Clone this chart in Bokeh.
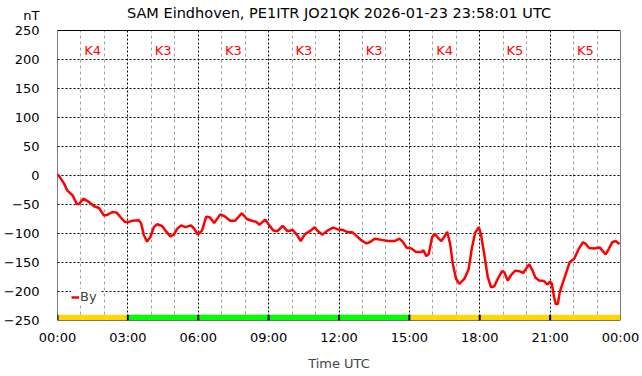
from bokeh.plotting import figure
from bokeh.models import FixedTicker, Legend, LegendItem, Range1d
from bokeh.embed import file_html
from bokeh.resources import INLINE

# ---- data ----
hours = [0.00, 0.07, 0.28, 0.42, 0.64, 0.82, 0.92, 1.10, 1.35, 1.56, 1.77, 1.98, 2.12, 2.34, 2.52, 2.69,
         2.87, 3.04, 3.19, 3.47, 3.57, 3.68, 3.82, 3.96, 4.11, 4.25, 4.46, 4.60, 4.81, 4.96, 5.10,
         5.27, 5.45, 5.69, 5.83, 5.98, 6.16, 6.34, 6.49, 6.68, 6.94, 7.15, 7.36, 7.57, 7.86,
         8.07, 8.28, 8.47, 8.61, 8.85, 9.03, 9.20, 9.37, 9.60, 9.80, 10.03, 10.20, 10.37, 10.55,
         10.76, 10.97, 11.07, 11.30, 11.51, 11.75, 11.96, 12.18, 12.39, 12.57, 12.77, 12.96,
         13.17, 13.31, 13.52, 13.81, 14.09, 14.37, 14.58, 14.73, 14.87, 15.08, 15.29, 15.51,
         15.60, 15.72, 15.83, 15.97, 16.10, 16.21, 16.36, 16.50, 16.61, 16.74, 16.85, 16.99,
         17.13, 17.35, 17.53, 17.67, 17.81, 17.96, 18.05, 18.19, 18.34, 18.48, 18.62, 18.77,
         18.95, 19.05, 19.19, 19.33, 19.51, 19.68, 19.85, 19.97, 20.11, 20.25, 20.37, 20.53,
         20.74, 20.89, 20.99, 21.07, 21.17, 21.24, 21.33, 21.41, 21.55, 21.69, 21.84, 22.02,
         22.23, 22.40, 22.52, 22.66, 22.87, 23.11, 23.22, 23.37, 23.51, 23.65, 23.79, 23.96]
by_nt = [2, -1, -14, -26, -34, -49, -49, -40, -46, -53, -56, -69, -68, -63, -64, -72,
         -80, -80, -78, -77, -83, -103, -114, -106, -89, -84, -87, -95, -105, -102, -92,
         -86, -89, -86, -92, -102, -95, -71, -72, -82, -67, -71, -78, -78, -65,
         -75, -78, -80, -85, -76, -86, -95, -96, -87, -96, -94, -102, -113, -101,
         -96, -89, -95, -102, -95, -90, -93, -94, -98, -98, -105, -112,
         -117, -115, -109, -111, -113, -113, -109, -115, -124, -126, -132, -132,
         -129, -139, -135, -106, -101, -107, -113, -105, -97, -118, -152, -178,
         -187, -178, -161, -124, -98, -89, -101, -135, -175, -193, -191, -178,
         -165, -167, -181, -172, -164, -165, -168, -161, -153, -164, -176, -181,
         -182, -188, -183, -186, -210, -222, -221, -201, -184, -167, -149, -144,
         -126, -115, -118, -125, -126, -124, -129, -136, -126, -115, -113, -118]

k_bin_start = [0, 3, 6, 9, 12, 15, 18, 21]
k_index = [4, 3, 3, 3, 3, 4, 5, 5]
x_ticks = [0, 3, 6, 9, 12, 15, 18, 21, 24]
x_tick_labels = ["00:00", "03:00", "06:00", "09:00", "12:00", "15:00", "18:00", "21:00", "00:00"]
x_minor = [h for h in range(25) if h % 3 != 0]
y_ticks = [-250, -200, -150, -100, -50, 0, 50, 100, 150, 200, 250]

title = "SAM Eindhoven, PE1ITR JO21QK 2026-01-23 23:58:01 UTC"
y_unit = "nT"
FONT = "DejaVu Sans"

# layout constants (the drawing area extends to the top of the page so the
# header texts can sit inside it; the data box is -250..250)
Y_MIN, Y_MAX = y_ticks[0], y_ticks[-1]
Y_TOP = 301.7          # value at the top edge of the page
Y_UNIT_POS = 276       # value level of the unit text
Y_TITLE_POS = 281      # value level of the title
X_MIN, X_MAX = x_ticks[0], x_ticks[-1]

p = figure(width=642, height=376, output_backend="svg", toolbar_location=None,
           x_range=Range1d(X_MIN, X_MAX), y_range=Range1d(Y_MIN, Y_TOP),
           min_border_left=55, min_border_right=22, min_border_top=0, min_border_bottom=56)

p.outline_line_color = None
p.background_fill_color = "white"
p.border_fill_color = "white"

# axes
p.xaxis.ticker = FixedTicker(ticks=x_ticks, minor_ticks=x_minor)
p.xaxis.major_label_overrides = {t: l for t, l in zip(x_ticks, x_tick_labels)}
p.yaxis.ticker = FixedTicker(ticks=y_ticks + [Y_UNIT_POS])
p.yaxis.major_label_overrides = {Y_UNIT_POS: y_unit}
for ax in (p.xaxis[0], p.yaxis[0]):
    ax.axis_line_color = None
    ax.major_tick_line_color = None
    ax.minor_tick_line_color = None
    ax.major_label_text_font = FONT
    ax.major_label_text_font_size = "13px"
    ax.major_label_text_color = "black"
p.xaxis.major_label_standoff = 3
p.yaxis.major_label_standoff = 12
p.xaxis.axis_label = "Time UTC"
p.xaxis.axis_label_text_font = FONT
p.xaxis.axis_label_text_font_size = "13px"
p.xaxis.axis_label_text_font_style = "normal"
p.xaxis.axis_label_standoff = 8

# grids
p.xgrid.grid_line_color = "black"
p.xgrid.grid_line_dash = "2 2"
p.xgrid.grid_line_width = 1
p.xgrid.minor_grid_line_color = "#a0a0a0"
p.xgrid.minor_grid_line_dash = "3 3"
p.ygrid.ticker = FixedTicker(ticks=y_ticks)
p.ygrid.grid_line_color = "black"
p.ygrid.grid_line_dash = "2 2"

# white header area above the data box (hides grid lines there)
p.quad(left=X_MIN, right=X_MAX, bottom=Y_MAX, top=Y_TOP, fill_color="white", line_color=None)

# K-index band
band_left = k_bin_start
band_right = [s + 3 for s in k_bin_start]
band_colors = ["#00ff00" if k <= 3 else "#ffd700" for k in k_index]
p.quad(left=band_left, right=band_right, bottom=-250, top=-240,
       fill_color=band_colors, line_color=None)
p.segment(x0=band_left, y0=-250, x1=band_left, y1=-240, line_color="black", line_width=2)

# data box border
p.quad(left=X_MIN, right=X_MAX, bottom=Y_MIN, top=Y_MAX, fill_color=None,
       line_color="black", line_width=1)

# K labels
k_mid = [s + 1.5 for s in k_bin_start]
k_text = ["K%d" % k for k in k_index]
p.text(x=k_mid, y=[215] * len(k_mid), text=k_text, text_align="center", text_baseline="middle",
       text_color="red", text_font_size="13px", text_font={"value": FONT})

# title
p.text(x=[(X_MIN + X_MAX) / 2], y=[Y_TITLE_POS], text=[title], text_align="center",
       text_baseline="middle", text_color="black", text_font_size="14.5px",
       text_font={"value": FONT})

# data line
r = p.line(hours, by_nt, line_color="red", line_width=2.5)

legend = Legend(items=[LegendItem(label="By", renderers=[r])], location=(14, 16),
                glyph_width=8, glyph_height=14, label_standoff=1, padding=2, margin=0,
                border_line_color=None, background_fill_color="white", background_fill_alpha=1,
                label_text_font=FONT, label_text_font_size="13px", label_height=14)
p.add_layout(legend, "center")

open("out.html", "w").write(file_html(p, INLINE))
